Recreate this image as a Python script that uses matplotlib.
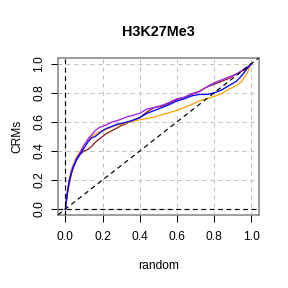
import matplotlib
matplotlib.use("Agg")
import matplotlib.pyplot as plt

plt.rcParams["font.family"] = ["Liberation Sans", "DejaVu Sans"]

fraction_random = [0, 0.005, 0.01, 0.02, 0.03, 0.04, 0.05, 0.06, 0.08, 0.10, 0.12, 0.14,
                   0.16, 0.18, 0.20, 0.22, 0.25, 0.28, 0.30, 0.33, 0.36, 0.40, 0.44, 0.48,
                   0.52, 0.56, 0.60, 0.64, 0.68, 0.72, 0.76, 0.80, 0.84, 0.88, 0.92, 0.95,
                   0.98, 1.0]

crm_brown = [0, 0.05, 0.10, 0.17, 0.23, 0.28, 0.31, 0.34, 0.38, 0.40, 0.41, 0.43, 0.46,
             0.48, 0.50, 0.52, 0.54, 0.56, 0.575, 0.59, 0.61, 0.63, 0.67, 0.70, 0.71,
             0.73, 0.755, 0.77, 0.79, 0.81, 0.84, 0.86, 0.88, 0.90, 0.93, 0.95, 0.97, 1.0]
crm_orange = [0, 0.06, 0.12, 0.20, 0.26, 0.30, 0.33, 0.36, 0.40, 0.44, 0.47, 0.50, 0.515,
              0.53, 0.54, 0.55, 0.565, 0.58, 0.585, 0.595, 0.605, 0.615, 0.625, 0.635,
              0.65, 0.665, 0.68, 0.70, 0.72, 0.745, 0.76, 0.775, 0.795, 0.825, 0.85,
              0.88, 0.94, 1.0]
crm_purple = [0, 0.06, 0.11, 0.19, 0.25, 0.29, 0.32, 0.35, 0.39, 0.44, 0.48, 0.51, 0.54,
              0.56, 0.57, 0.58, 0.60, 0.61, 0.62, 0.635, 0.645, 0.66, 0.69, 0.70, 0.715,
              0.735, 0.76, 0.77, 0.795, 0.81, 0.84, 0.87, 0.89, 0.91, 0.93, 0.955, 0.98,
              1.0]
crm_blue = [0, 0.06, 0.11, 0.19, 0.24, 0.28, 0.31, 0.34, 0.38, 0.42, 0.46, 0.49, 0.50,
            0.52, 0.54, 0.555, 0.57, 0.585, 0.59, 0.60, 0.61, 0.63, 0.66, 0.68, 0.70,
            0.72, 0.745, 0.76, 0.78, 0.79, 0.79, 0.80, 0.82, 0.85, 0.88, 0.92, 0.97, 1.0]

series = [
    (crm_brown, "#8B2323"),
    (crm_orange, "#FFA500"),
    (crm_purple, "#A020F0"),
    (crm_blue, "#0000FF"),
]

ticks = [0.0, 0.2, 0.4, 0.6, 0.8, 1.0]

fig = plt.figure(figsize=(4, 4), dpi=72)
ax = fig.add_axes([0.2014, 0.254, 0.6962, 0.544])
ax.set_xlim(-0.04, 1.04)
ax.set_ylim(-0.04, 1.04)

for t in ticks:
    ax.axvline(t, color="#BEBEBE", linestyle=(0, (4, 4)), linewidth=1.0, zorder=1)
    ax.axhline(t, color="#BEBEBE", linestyle=(0, (4, 4)), linewidth=1.0, zorder=1)

for values, color in series:
    ax.plot(fraction_random, values, color=color, linewidth=1.3, zorder=3)

ax.axvline(0, color="black", linestyle=(0, (4, 3)), linewidth=1.2, zorder=4)
ax.axhline(0, color="black", linestyle=(0, (4, 3)), linewidth=1.2, zorder=4)
ax.plot([-0.04, 1.04], [-0.04, 1.04], color="black", linestyle=(0, (4, 3)),
        linewidth=1.2, zorder=4)

for side in ax.spines.values():
    side.set_color("#808080")
    side.set_linewidth(1.5)

ax.set_xticks(ticks)
ax.set_yticks(ticks)
ax.set_xticklabels([f"{t:.1f}" for t in ticks], fontsize=12)
ax.set_yticklabels([f"{t:.1f}" for t in ticks], fontsize=12, rotation=90, va="center")
ax.tick_params(axis="x", direction="out", length=7, width=1, color="black", pad=9)
ax.tick_params(axis="y", direction="out", length=7, width=1, color="black", pad=6)

ax.set_xlabel("random", fontsize=12, labelpad=17)
ax.set_ylabel("CRMs", fontsize=12, labelpad=10)
ax.set_title("H3K27Me3", fontsize=14.4, fontweight="bold", pad=22)

fig.savefig("out.png", dpi=72)
